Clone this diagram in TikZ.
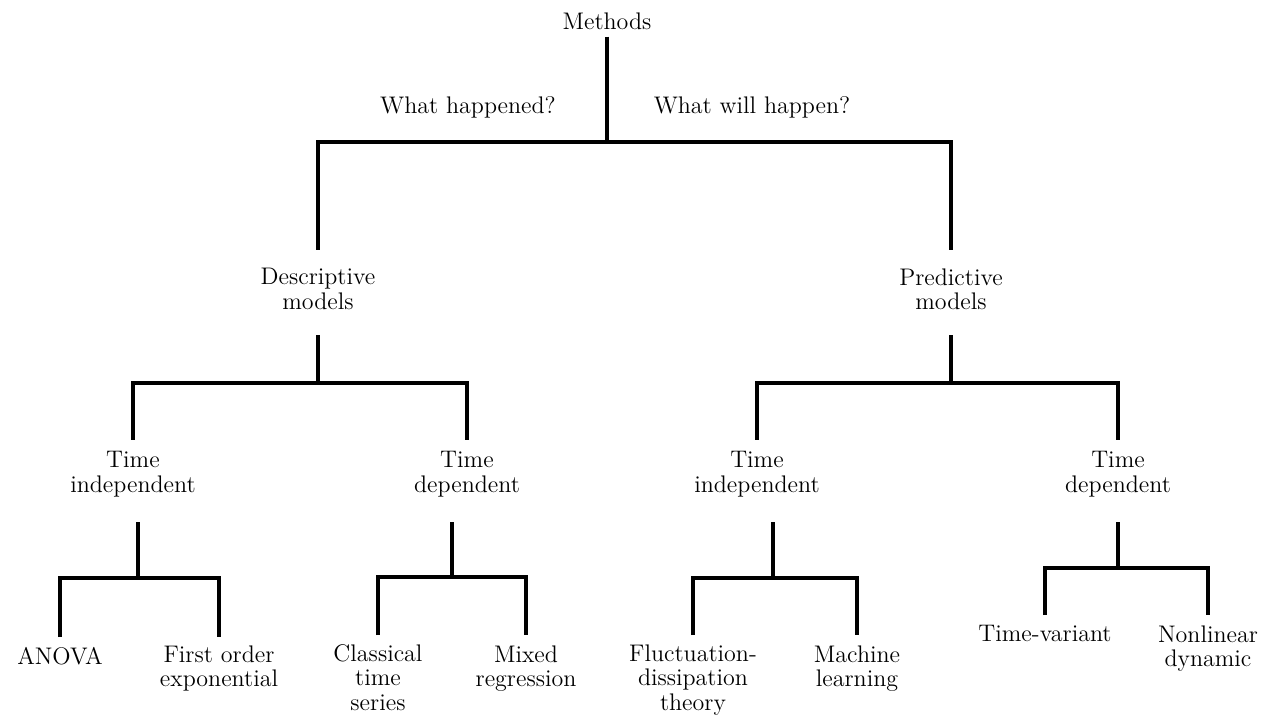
\documentclass[tikz,border=0pt]{standalone}
\usetikzlibrary{positioning}

\begin{document}
\begin{tikzpicture}[x=0.5pt,y=-0.5pt,
    lbl/.style={align=center,inner sep=0pt,anchor=north,font=\fontsize{12}{12.3}\selectfont},
    tree/.style={line width=2pt,line join=miter}]
   \useasboundingbox (0,0) rectangle (1273,715);
   % root and questions
   \node[lbl] (methods) at (607,12) {Methods};
   \node[lbl] (past) at (468,96) {What happened?};
   \node[lbl] (future) at (752,96) {What will happen?};
   % first level
   \node[lbl] (desc) at (318,268) {Descriptive\\models};
   \node[lbl] (pred) at (951,268) {Predictive\\models};
   % second level
   \node[lbl] (ti_d) at (133,451) {Time\\independent};
   \node[lbl] (td_d) at (467,451) {Time\\dependent};
   \node[lbl] (ti_p) at (757,451) {Time\\independent};
   \node[lbl] (td_p) at (1118,451) {Time\\dependent};
   % leaves
   \node[lbl] (anova) at (60,647) {ANOVA};
   \node[lbl] (first) at (219,645) {First order\\exponential};
   \node[lbl] (classic) at (378,644) {Classical\\time\\series};
   \node[lbl] (mixed) at (526,645) {Mixed\\regression};
   \node[lbl] (fluct) at (693,644) {Fluctuation-\\dissipation\\theory};
   \node[lbl] (ml) at (857,645) {Machine\\learning};
   \node[lbl] (tvar) at (1045,625) {Time-variant};
   \node[lbl] (nonlin) at (1208,625) {Nonlinear\\dynamic};
   % junctions
   \coordinate (j_root) at (607,142);
   \coordinate (j_desc) at (318,383);
   \coordinate (j_pred) at (951,383);
   \coordinate (j_tid) at (138,578);
   \coordinate (j_tdd) at (452,577);
   \coordinate (j_tip) at (773,578);
   \coordinate (j_tdp) at (1118,568);
   % branches
   \draw[tree,shorten <=3.5pt] (methods.south) -- (j_root);
   \draw[tree,shorten <=9pt,shorten >=9pt] (desc.north) |- (j_root) -| (pred.north);
   \draw[tree,shorten <=12.5pt] (desc.south) -- (j_desc);
   \draw[tree,shorten <=12.5pt] (pred.south) -- (j_pred);
   \draw[tree,shorten <=5.5pt,shorten >=5.5pt] (ti_d.north) |- (j_desc) -| (td_d.north);
   \draw[tree,shorten <=5.5pt,shorten >=5.5pt] (ti_p.north) |- (j_pred) -| (td_p.north);
   \draw[tree,shorten <=12.5pt] (ti_d.south -| j_tid) -- (j_tid);
   \draw[tree,shorten <=12.5pt] (td_d.south -| j_tdd) -- (j_tdd);
   \draw[tree,shorten <=12.5pt] (ti_p.south -| j_tip) -- (j_tip);
   \draw[tree,shorten <=12.5pt] (td_p.south -| j_tdp) -- (j_tdp);
   \draw[tree,shorten <=5pt,shorten >=4pt] (anova.north) |- (j_tid) -| (first.north);
   \draw[tree,shorten <=4.5pt,shorten >=5pt] (classic.north) |- (j_tdd) -| (mixed.north);
   \draw[tree,shorten <=4.5pt,shorten >=5pt] (fluct.north) |- (j_tip) -| (ml.north);
   \draw[tree,shorten <=5pt,shorten >=5pt] (tvar.north) |- (j_tdp) -| (nonlin.north);
\end{tikzpicture}
\end{document}
